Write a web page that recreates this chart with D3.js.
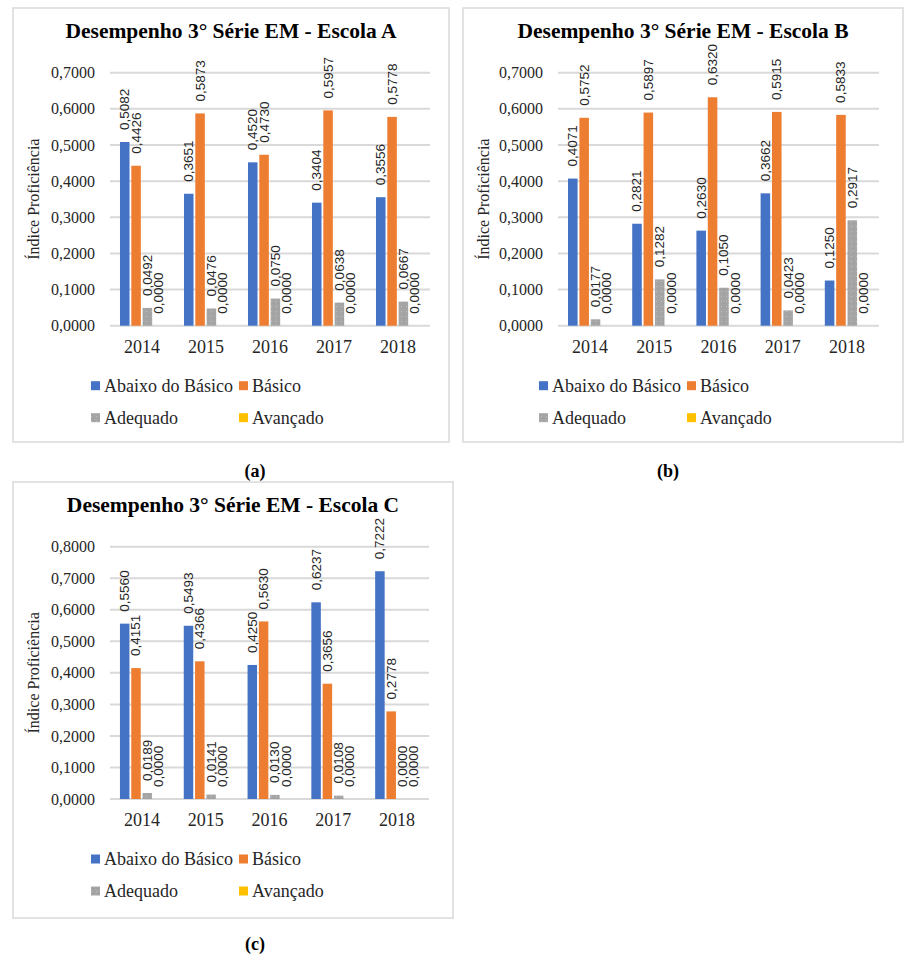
<!DOCTYPE html>
<html>
<head>
<meta charset="utf-8">
<script src="https://cdn.jsdelivr.net/npm/d3@7"></script>
<style>
  html, body { margin: 0; padding: 0; background: #fff; }
  svg { display: block; }
</style>
</head>
<body>
<svg id="chart" width="913" height="966"></svg>
<script>
// ---------- DATA ----------
const years = ["2014", "2015", "2016", "2017", "2018"];
const seriesNames = ["Abaixo do Básico", "Básico", "Adequado", "Avançado"];

const escolaA_abaixo   = [0.5082, 0.3651, 0.4520, 0.3404, 0.3556];
const escolaA_basico   = [0.4426, 0.5873, 0.4730, 0.5957, 0.5778];
const escolaA_adequado = [0.0492, 0.0476, 0.0750, 0.0638, 0.0667];
const escolaA_avancado = [0.0000, 0.0000, 0.0000, 0.0000, 0.0000];

const escolaB_abaixo   = [0.4071, 0.2821, 0.2630, 0.3662, 0.1250];
const escolaB_basico   = [0.5752, 0.5897, 0.6320, 0.5915, 0.5833];
const escolaB_adequado = [0.0177, 0.1282, 0.1050, 0.0423, 0.2917];
const escolaB_avancado = [0.0000, 0.0000, 0.0000, 0.0000, 0.0000];

const escolaC_abaixo   = [0.5560, 0.5493, 0.4250, 0.6237, 0.7222];
const escolaC_basico   = [0.4151, 0.4366, 0.5630, 0.3656, 0.2778];
const escolaC_adequado = [0.0189, 0.0141, 0.0130, 0.0108, 0.0000];
const escolaC_avancado = [0.0000, 0.0000, 0.0000, 0.0000, 0.0000];

const ticksAB = [0, 0.1, 0.2, 0.3, 0.4, 0.5, 0.6, 0.7];
const ticksC  = [0, 0.1, 0.2, 0.3, 0.4, 0.5, 0.6, 0.7, 0.8];

const titles = ["Desempenho 3° Série EM - Escola A",
                "Desempenho 3° Série EM - Escola B",
                "Desempenho 3° Série EM - Escola C"];
const captions = ["(a)", "(b)", "(c)"];
const yAxisTitle = "Índice Proficiência";

// ---------- STYLE ----------
const colors = ["#4472c4", "#ed7d31", "url(#dotgray)", "#ffc000"];
const serif = "'Liberation Serif', 'Times New Roman', serif";
const sans = "'Liberation Sans', Arial, sans-serif";
const gridColor = "#d9d9d9";

const svg = d3.select("#chart");

// dotted gray pattern (Excel texture)
const defs = svg.append("defs");
const pat = defs.append("pattern").attr("id", "dotgray")
  .attr("width", 5).attr("height", 5).attr("patternUnits", "userSpaceOnUse");
pat.append("rect").attr("width", 5).attr("height", 5).attr("fill", "#a5a5a5");
pat.append("rect").attr("x", 1).attr("y", 1).attr("width", 1).attr("height", 1).attr("fill", "#bdbdbd");
pat.append("rect").attr("x", 3).attr("y", 3).attr("width", 1).attr("height", 1).attr("fill", "#979797");

const fmt = v => d3.format(".4f")(v).replace(".", ",");

const panels = [
  { box: [13, 8, 436, 434], plot: [110, 430, 72.7, 325.7], ticks: ticksAB, yMax: 0.7,
    data: [escolaA_abaixo, escolaA_basico, escolaA_adequado, escolaA_avancado],
    title: titles[0], caption: captions[0], capPos: [255, 477] },
  { box: [463, 8, 440, 434], plot: [558, 879, 72.7, 325.7], ticks: ticksAB, yMax: 0.7,
    data: [escolaB_abaixo, escolaB_basico, escolaB_adequado, escolaB_avancado],
    title: titles[1], caption: captions[1], capPos: [668, 477] },
  { box: [13, 482, 440, 436], plot: [110, 429, 546.7, 799], ticks: ticksC, yMax: 0.8,
    data: [escolaC_abaixo, escolaC_basico, escolaC_adequado, escolaC_avancado],
    title: titles[2], caption: captions[2], capPos: [255, 950] }
];

panels.forEach(p => {
  const [bx, by, bw, bh] = p.box;
  const [pl, pr, pt, pb] = p.plot;
  const g = svg.append("g");

  // border
  g.append("rect").attr("x", bx).attr("y", by).attr("width", bw).attr("height", bh)
    .attr("fill", "#fff").attr("stroke", gridColor).attr("stroke-width", 1.5);

  // title
  g.append("text").attr("x", bx + bw / 2).attr("y", by + 30)
    .attr("text-anchor", "middle").attr("font-family", serif)
    .attr("font-weight", "bold").attr("font-size", 21.5).attr("fill", "#000")
    .text(p.title);

  const y = d3.scaleLinear().domain([0, p.yMax]).range([pb, pt]);
  const x = d3.scaleBand().domain(years).range([pl, pr]).padding(0);
  const xs = d3.scaleBand().domain(seriesNames)
    .range([x.bandwidth() * 0.156, x.bandwidth() * 0.836]).paddingInner(0.16).paddingOuter(0);

  // gridlines
  g.append("g").selectAll("line").data(p.ticks).join("line")
    .attr("x1", pl).attr("x2", pr)
    .attr("y1", d => y(d)).attr("y2", d => y(d))
    .attr("stroke", gridColor).attr("stroke-width", 2);

  // y axis
  const yAxis = d3.axisLeft(y).tickValues(p.ticks).tickSize(0).tickPadding(0)
    .tickFormat(d => fmt(d));
  const ya = g.append("g").attr("transform", `translate(${pl - 15},0)`).call(yAxis);
  ya.attr("font-family", serif);
  ya.select(".domain").remove();
  ya.selectAll("text").style("font-family", serif).attr("font-size", 16).attr("fill", "#262626");

  // x axis
  const xAxis = d3.axisBottom(x).tickSize(0).tickPadding(0);
  const xa = g.append("g").attr("transform", `translate(0,${pb + 27})`).call(xAxis);
  xa.attr("font-family", serif);
  xa.select(".domain").remove();
  xa.selectAll("text").style("font-family", serif).attr("font-size", 18)
    .attr("fill", "#262626").attr("dy", 0);

  // y axis title
  g.append("text")
    .attr("transform", `translate(${bx + 20},${(pt + pb) / 2}) rotate(-90)`)
    .attr("text-anchor", "middle").attr("dominant-baseline", "central")
    .style("font-family", serif).attr("font-size", 16).attr("fill", "#262626")
    .text(yAxisTitle);

  // bars
  seriesNames.forEach((s, si) => {
    const vals = p.data[si];
    const sg = g.append("g");
    sg.selectAll("rect").data(vals).join("rect")
      .attr("x", (d, i) => x(years[i]) + xs(s))
      .attr("y", d => y(d))
      .attr("width", xs.bandwidth())
      .attr("height", d => y(0) - y(d))
      .attr("fill", colors[si]);
    sg.selectAll("text").data(vals).join("text")
      .attr("transform", (d, i) =>
        `translate(${x(years[i]) + xs(s) + xs.bandwidth() / 2},${y(d) - 12}) rotate(-90)`)
      .attr("text-anchor", "start").attr("dominant-baseline", "central")
      .style("font-family", sans).attr("font-size", 13.5).attr("fill", "#262626")
      .text(d => fmt(d));
  });

  // legend
  const legendItems = [
    { name: seriesNames[0], c: colors[0], dx: -19, dy: 60 },
    { name: seriesNames[1], c: colors[1], dx: 129, dy: 60 },
    { name: seriesNames[2], c: colors[2], dx: -19, dy: 92 },
    { name: seriesNames[3], c: colors[3], dx: 129, dy: 92 }
  ];
  const lg = g.append("g");
  legendItems.forEach(li => {
    lg.append("rect").attr("x", pl + li.dx).attr("y", pb + li.dy - 4.5)
      .attr("width", 9).attr("height", 9).attr("fill", li.c);
    lg.append("text").attr("x", pl + li.dx + 13).attr("y", pb + li.dy)
      .attr("dominant-baseline", "central")
      .style("font-family", serif).attr("font-size", 18).attr("fill", "#262626")
      .text(li.name);
  });

  // caption
  svg.append("text").attr("x", p.capPos[0]).attr("y", p.capPos[1])
    .attr("text-anchor", "middle").style("font-family", serif)
    .attr("font-weight", "bold").attr("font-size", 18).attr("fill", "#000")
    .text(p.caption);
});
</script>
</body>
</html>
